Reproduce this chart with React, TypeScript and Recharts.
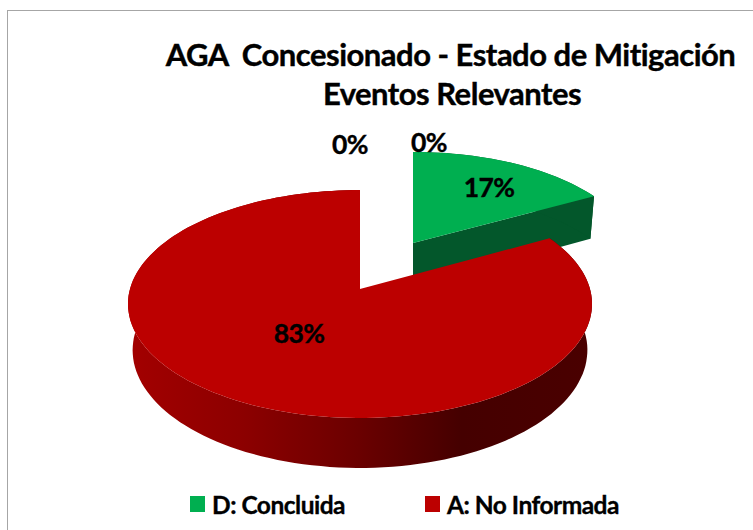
import React from "react";
import { PieChart, Pie, Legend } from "recharts";

const categories = ["D: Concluida", "A: No Informada", "B: En Proceso", "C: Sin Iniciar"];
const shares = [17, 83, 0, 0];
const sliceColors = ["#00AF50", "#BC0000", "#4F81BD", "#8064A2"];
const titleLines = ["AGA  Concesionado - Estado de Mitigación", "Eventos Relevantes"];

const rows = categories.map((name, i) => ({ name, value: shares[i], fill: sliceColors[i] }));

const FONT = "Lato, Carlito, sans-serif";
const CX = 360;
const CY = 289;
const RADIUS = 230;
const TILT = 112 / 230;
const PERSPECTIVE = 0.1316;
const BOTTOM_SHRINK = 0.98;
// per-slice look: offset of the exploded apex from the pie centre, scale, extrusion depth
const sliceLook: Record<string, { dx: number; dy: number; sx: number; sy: number; depth: number }> = {
  "D: Concluida": { dx: 53, dy: -46, sx: 0.955, sy: 0.92, depth: 48 },
  "A: No Informada": { dx: 0, dy: 0, sx: 1, sy: 1, depth: 45.6 },
};
const labelOffsets: Record<string, { dx: number; dy: number }> = {
  "D: Concluida": { dx: 129, dy: -102 },
  "A: No Informada": { dx: -61, dy: 44 },
  "B: En Proceso": { dx: -10, dy: -145 },
  "C: Sin Iniciar": { dx: 69, dy: -147 },
};

function project(cx: number, cy: number, rx: number, ry: number, deg: number, extra: number) {
  const a = (deg * Math.PI) / 180;
  const u = Math.cos(a);
  const v = -Math.sin(a);
  const w = 1 - PERSPECTIVE * v;
  return [cx + (rx * u) / w, cy + (ry * TILT * v) / w + extra / w];
}

function arcPoints(cx: number, cy: number, rx: number, ry: number, from: number, to: number, extra: number) {
  const n = Math.max(2, Math.ceil(Math.abs(to - from) / 2));
  const pts: number[][] = [];
  for (let i = 0; i <= n; i++) pts.push(project(cx, cy, rx, ry, from + ((to - from) * i) / n, extra));
  return pts;
}

const toPath = (pts: number[][]) =>
  "M" + pts.map((p) => `${p[0].toFixed(1)},${p[1].toFixed(1)}`).join("L") + "Z";

function SliceShape(props: any) {
  const { cx, cy, outerRadius, startAngle, endAngle, name, fill, value } = props;
  if (!value) return null;
  const look = sliceLook[name];
  const ax = cx + look.dx;
  const ay = cy + look.dy;
  const rx = outerRadius * look.sx;
  const ry = outerRadius * look.sy;
  const rxB = rx * BOTTOM_SHRINK;
  const ryB = ry * BOTTOM_SHRINK;
  const d = look.depth * look.sy;
  const top = arcPoints(ax, ay, rx, ry, startAngle, endAngle, 0);
  const bottom = arcPoints(ax, ay, rxB, ryB, startAngle, endAngle, d);
  const wall = [...top, ...bottom.slice().reverse()];
  const apexTop = project(ax, ay, 0, 0, 0, 0);
  const apexBottom = project(ax, ay, 0, 0, 0, d);
  const isRed = name === "A: No Informada";
  const edge = project(ax, ay, rx, ry, endAngle, 0);
  const edgeBottom = project(ax, ay, rxB, ryB, endAngle, d);
  return (
    <g>
      <defs>
        <linearGradient id="redWall" gradientUnits="userSpaceOnUse" x1="128" y1="0" x2="591" y2="0">
          <stop offset="0" stopColor="#A30000" />
          <stop offset="0.25" stopColor="#8C0000" />
          <stop offset="0.5" stopColor="#6A0000" />
          <stop offset="0.72" stopColor="#450000" />
          <stop offset="1" stopColor="#4A0000" />
        </linearGradient>
      </defs>
      {!isRed && <path d={toPath([apexTop, edge, edgeBottom, apexBottom])} fill="#03572B" />}
      {!isRed && <path d={toPath(wall)} fill="#03572B" />}
      {isRed && <path d={toPath(wall)} fill="url(#redWall)" />}
      <path d={toPath([apexTop, ...top])} fill={fill} />
    </g>
  );
}

function SliceLabel(props: any) {
  const { cx, cy, name, value } = props;
  const o = labelOffsets[name];
  return (
    <text
      x={cx + o.dx}
      y={cy + o.dy}
      textAnchor="middle"
      dominantBaseline="central"
      fontFamily={FONT}
      fontWeight={700}
      fontSize={26.5}
      letterSpacing={-0.6}
      fill="#000"
      stroke="#000"
      strokeWidth={0.4}
    >
      {`${value}%`}
    </text>
  );
}

function LegendRow(props: any) {
  const items = categories
    .map((c) => (props.payload || []).find((p: any) => p.value === c))
    .filter((p: any) => p && p.payload && p.payload.value > 0);
  return (
    <div style={{ position: "relative", width: 753, height: 30 }}>
      {items.map((it: any, i: number) => (
        <div
          key={it.value}
          style={{
            position: "absolute",
            left: i === 0 ? 190 : 425,
            top: 0,
            display: "flex",
            alignItems: "center",
            height: 30,
            whiteSpace: "nowrap",
            fontFamily: FONT,
            fontWeight: 700,
            fontSize: 24.5,
            letterSpacing: -0.5,
            color: "#000",
            WebkitTextStroke: "0.35px #000",
          }}
        >
          <span style={{ width: 15, height: 16, background: it.payload.fill, marginRight: 7, display: "inline-block" }} />
          {it.value}
        </div>
      ))}
    </div>
  );
}

const titleStyle = { whiteSpace: "pre" } as React.CSSProperties;

export default function App() {
  return (
    <div style={{ position: "absolute", left: 0, top: 0, width: 753, height: 530, overflow: "hidden", background: "#fff" }}>
      <div style={{ position: "absolute", left: 7, top: 10, width: 760, height: 540, borderLeft: "1px solid #a6a6a6", borderTop: "1px solid #a6a6a6" }} />
      <div style={{ position: "absolute", left: 0, top: 0 }}>
        <PieChart width={753} height={530} margin={{ top: 0, right: 0, bottom: 0, left: 0 }}>
          <text x={450.5} y={54} textAnchor="middle" dominantBaseline="central" fontFamily={FONT} fontWeight={700} fontSize={31} letterSpacing={-0.5} fill="#000" stroke="#000" strokeWidth={0.4} style={titleStyle}>
            {titleLines[0]}
          </text>
          <text x={452} y={93} textAnchor="middle" dominantBaseline="central" fontFamily={FONT} fontWeight={700} fontSize={31} letterSpacing={-0.5} fill="#000" stroke="#000" strokeWidth={0.4} style={titleStyle}>
            {titleLines[1]}
          </text>
          <Pie
            data={rows}
            dataKey="value"
            nameKey="name"
            cx={CX}
            cy={CY}
            innerRadius={0}
            outerRadius={RADIUS}
            startAngle={90}
            endAngle={-270}
            stroke="none"
            isAnimationActive={false}
            shape={SliceShape}
            label={SliceLabel}
            labelLine={false}
          />
          <Legend
            content={LegendRow}
            wrapperStyle={{ position: "absolute", left: 0, top: 489, width: 753, height: 30 }}
          />
        </PieChart>
      </div>
    </div>
  );
}
